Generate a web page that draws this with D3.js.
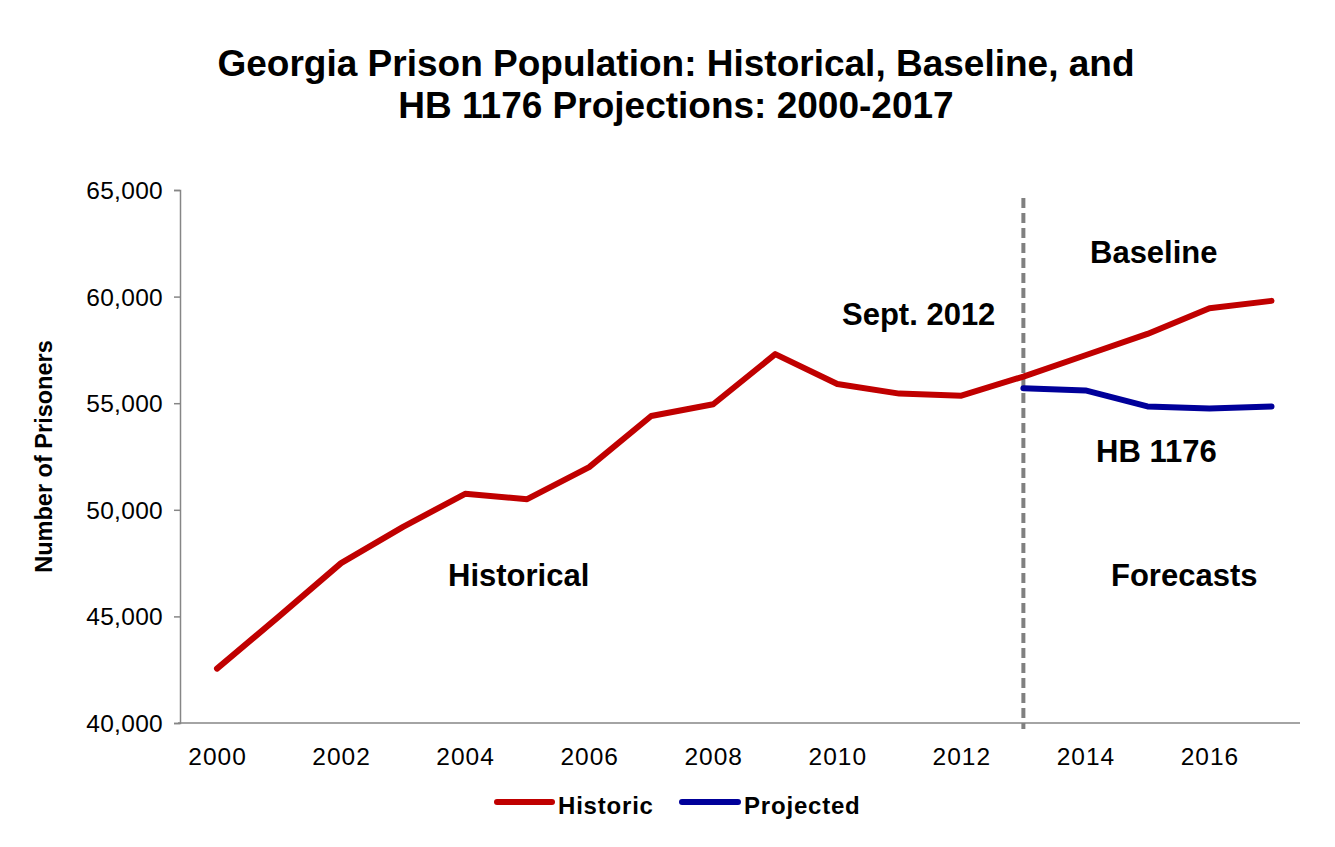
<!DOCTYPE html>
<html>
<head>
<meta charset="utf-8">
<script src="https://cdn.jsdelivr.net/npm/d3@7"></script>
<style>
  html, body { margin: 0; padding: 0; background: #fff; }
  svg { display: block; font-family: Arial, "Liberation Sans", sans-serif; }
</style>
</head>
<body>
<svg id="chart" width="1335" height="847"></svg>
<script>
// ---- Data ----
const years = [2000, 2001, 2002, 2003, 2004, 2005, 2006, 2007, 2008, 2009, 2010, 2011, 2012, 2013, 2014, 2015, 2016, 2017];
const historic = [42550, 45000, 47500, 49200, 50750, 50500, 52000, 54400, 54950, 57300, 55900, 55450, 55350, 56250, 57250, 58250, 59450, 59800];
const projectedYears = [2013, 2014, 2015, 2016, 2017];
const projected = [55700, 55600, 54850, 54750, 54850];
const xTickYears = [2000, 2002, 2004, 2006, 2008, 2010, 2012, 2014, 2016];
const yTicks = [40000, 45000, 50000, 55000, 60000, 65000];
const splitYear = 2013;
const titleLines = ["Georgia Prison Population: Historical, Baseline, and", "HB 1176 Projections: 2000-2017"];
const seriesNames = ["Historic", "Projected"];
const colors = ["#C00000", "#00009A"];

// ---- Layout ----
const svg = d3.select("#chart");
const axisLeftX = 180, plotTop = 190, plotBottom = 723, plotRight = 1300;

const x = d3.scalePoint().domain(years).range([217, 1271.5]);
const y = d3.scaleLinear().domain([40000, 65000]).range([plotBottom, plotTop]);

// Title
svg.selectAll("text.title").data(titleLines).join("text")
  .attr("class", "title")
  .attr("x", 676)
  .attr("y", (d, i) => 76 + i * 42)
  .attr("text-anchor", "middle")
  .attr("font-size", 37)
  .attr("font-weight", "bold")
  .attr("fill", "#000")
  .text(d => d);

// Y axis
const yAxis = d3.axisLeft(y).tickValues(yTicks).tickFormat(d3.format(",")).tickSizeOuter(0).tickSize(6).tickPadding(11);
const gy = svg.append("g").attr("transform", `translate(${axisLeftX},0)`).call(yAxis);
gy.select(".domain").attr("stroke", "#868686").attr("stroke-width", 1.5);
gy.selectAll(".tick line").attr("stroke", "#868686").attr("stroke-width", 1.5);
gy.selectAll(".tick text").attr("font-size", 24.5).attr("fill", "#000").attr("dy", "0.35em")
  .attr("font-family", "Arial, 'Liberation Sans', sans-serif").attr("letter-spacing", 0.3);

// X axis
const xAxis = d3.axisBottom(x).tickValues(xTickYears).tickSize(0).tickPadding(0);
const gx = svg.append("g").attr("transform", `translate(0,${plotBottom})`).call(xAxis);
gx.select(".domain").remove();
gx.selectAll(".tick text").attr("font-size", 24.5).attr("fill", "#000")
  .attr("y", 42).attr("dy", 0)
  .attr("font-family", "Arial, 'Liberation Sans', sans-serif").attr("letter-spacing", 1);
svg.append("line")
  .attr("x1", 178).attr("x2", plotRight)
  .attr("y1", plotBottom).attr("y2", plotBottom)
  .attr("stroke", "#868686").attr("stroke-width", 1.5);

// Y axis title
svg.append("text")
  .attr("transform", `translate(52,${(plotTop + plotBottom) / 2}) rotate(-90)`)
  .attr("text-anchor", "middle")
  .attr("font-size", 23.5)
  .attr("font-weight", "bold")
  .text("Number of Prisoners");

// Dashed split line
svg.append("line")
  .attr("x1", x(splitYear)).attr("x2", x(splitYear))
  .attr("y1", 198).attr("y2", 729)
  .attr("stroke", "#808080").attr("stroke-width", 4)
  .attr("stroke-dasharray", "10,5");

// Lines
const line = d3.line().x(d => x(d[0])).y(d => y(d[1]));
const histData = years.map((yr, i) => [yr, historic[i]]);
const projData = projectedYears.map((yr, i) => [yr, projected[i]]);
svg.append("path").datum(histData)
  .attr("d", line).attr("fill", "none")
  .attr("stroke", colors[0]).attr("stroke-width", 6)
  .attr("stroke-linecap", "round").attr("stroke-linejoin", "round");
svg.append("path").datum(projData)
  .attr("d", line).attr("fill", "none")
  .attr("stroke", colors[1]).attr("stroke-width", 6)
  .attr("stroke-linecap", "round").attr("stroke-linejoin", "round");

// Annotations
const annotations = [
  { t: "Sept. 2012", x: 842, y: 325 },
  { t: "Historical", x: 448, y: 586 },
  { t: "Baseline", x: 1090, y: 263 },
  { t: "HB 1176", x: 1096, y: 462 },
  { t: "Forecasts", x: 1111, y: 586 }
];
svg.selectAll("text.ann").data(annotations).join("text")
  .attr("class", "ann")
  .attr("x", d => d.x).attr("y", d => d.y)
  .attr("font-size", 31).attr("font-weight", "bold").attr("fill", "#000")
  .text(d => d.t);

// Legend
const legend = [
  { name: seriesNames[0], color: colors[0], x1: 497, x2: 552, tx: 558 },
  { name: seriesNames[1], color: colors[1], x1: 682, x2: 738, tx: 744 }
];
const lg = svg.selectAll("g.leg").data(legend).join("g").attr("class", "leg");
lg.append("line")
  .attr("x1", d => d.x1).attr("x2", d => d.x2)
  .attr("y1", 802).attr("y2", 802)
  .attr("stroke", d => d.color).attr("stroke-width", 6).attr("stroke-linecap", "round");
lg.append("text")
  .attr("x", d => d.tx).attr("y", 814)
  .attr("font-size", 24).attr("font-weight", "bold").attr("letter-spacing", 0.8)
  .text(d => d.name);
</script>
</body>
</html>
